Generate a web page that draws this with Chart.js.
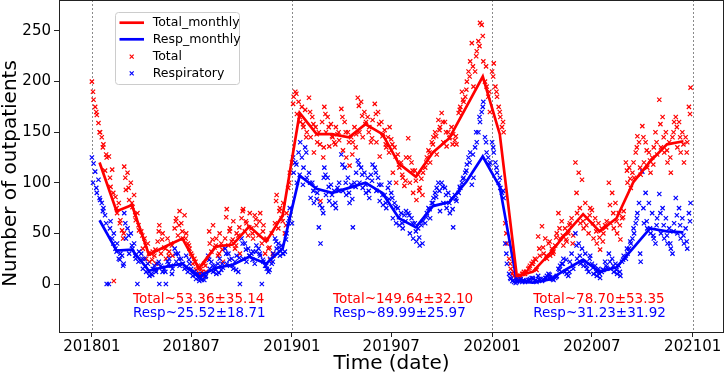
<!DOCTYPE html>
<html><head><meta charset="utf-8">
<script src="https://cdn.jsdelivr.net/npm/chart.js@4"></script>
<style>html,body{margin:0;padding:0;background:#fff}</style>
</head><body>
<canvas id="c" width="726" height="376"></canvas>
<script>
// ---------------- data ----------------
const xTickLabels = ['201801','201807','201901','201907','202001','202007','202101'];
const yTicks = [0, 50, 100, 150, 200, 250];

// monthly means, Jan 2018 .. Dec 2020
const totalMonthly = [120,72,78,29,37,45,15.5,37,39,57,42,68, 169,148,148,145,158,148,119,106,130,144,175,205, 148,8,12,30,50,69,52,65,101,121,138,141];
const respMonthly  = [63,33,34,13,17,20,7,16,19,27,20,35, 107,94,90,95,100,90,65,56,77,81,101,126, 96,3,1.3,4.6,14.5,24,12,16.5,36,55,52,51];

// daily samples A: days 1,4,7,...,28 of each month (10 per month)
const total2018 = [
200,182,175,167,159,150,145,138,112,125,
126,96,113,3,86,70,80,63,53,50,
116,93,110,83,100,76,88,63,70,53,
52,35,45,25,40,22,30,32,28,20,
42,58,30,50,36,25,45,32,40,28,
55,65,48,72,60,45,68,50,40,35,
30,20,25,14,18,10,15,8,20,12,
25,40,32,58,36,45,28,50,40,22,
45,74,38,55,42,62,35,50,48,30,
65,74,52,60,48,70,55,45,68,58,
48,70,40,58,30,45,35,24,50,28,
60,88,55,75,65,80,50,70,95,110];
const resp2018 = [
125,119,111,90,103,83,80,75,68,0,
0,62,45,50,35,40,25,30,28,20,
70,45,55,30,50,35,40,25,0,32,
30,15,25,12,20,8,10,15,18,12,
20,0,18,12,15,0,22,25,18,15,
35,22,30,18,25,20,15,28,12,20,
15,8,12,5,10,3,6,10,4,8,
28,15,22,12,18,10,20,25,14,16,
35,20,30,18,25,15,22,28,12,0,
45,25,40,22,35,28,30,32,20,38,
35,28,0,22,18,15,12,25,20,30,
45,35,40,28,38,30,32,50,60,75];
const total2019 = [
120,185,190,168,180,160,175,155,172,150,
184,145,165,130,155,140,150,82,160,135,
175,150,165,136,158,145,140,155,148,142,
173,132,160,125,150,117,145,140,155,148,
184,150,180,145,170,160,165,155,140,162,
178,140,170,126,160,148,152,135,145,155,
143,110,135,100,128,115,120,105,97,125,
144,100,120,90,112,83,108,95,104,110,
115,125,132,120,140,145,150,128,162,155,
169,140,160,136,150,145,155,148,142,138,
169,175,190,180,185,200,210,220,238,195,
210,230,240,258,256,220,200,195,185,170];
const resp2019 = [
60,110,120,100,130,140,125,115,135,105,
110,85,100,80,95,90,56,40,75,105,
115,88,105,82,98,78,92,75,95,100,
128,92,115,88,105,80,98,56,100,110,
122,100,115,95,110,90,105,85,108,118,
115,92,105,82,98,78,88,75,95,100,
90,65,80,60,75,58,70,55,68,72,
70,50,65,45,60,42,55,38,58,62,
60,70,75,65,80,85,90,95,100,72,
100,80,95,75,90,70,85,56,88,82,
90,95,100,105,110,118,125,130,98,105,
135,140,150,160,170,180,145,130,125,120];
const total2020 = [
210,218,195,185,175,165,155,150,60,40,
25,15,10,8,6,5,4,8,10,12,
10,12,15,18,20,22,25,14,47,28,
57,30,45,25,40,28,35,32,38,50,
70,45,62,38,55,42,50,60,65,48,
120,70,110,60,103,55,80,65,50,75,
73,45,65,40,60,34,55,50,58,62,
100,60,90,55,80,50,70,44,65,72,
120,100,115,95,110,105,130,146,140,108,
156,120,140,115,130,110,125,135,150,128,
182,135,165,130,150,120,140,110,145,160,
165,135,160,130,150,120,145,140,175,194];
const resp2020 = [
140,130,120,110,100,95,90,85,40,20,
10,5,3,2,1,3,4,5,2,3,
2,3,4,5,6,5,3,2,8,4,
3,5,6,8,10,7,5,4,6,8,
15,18,20,25,12,10,8,22,30,15,
50,25,40,20,35,18,30,15,12,28,
20,10,18,8,15,6,12,14,22,16,
30,15,25,12,20,10,18,8,22,28,
25,30,35,40,45,50,60,70,80,22,
111,60,90,55,80,50,70,45,40,65,
89,50,75,45,65,40,55,35,30,60,
85,50,75,45,65,40,55,35,70,80];

// daily samples B: days 3,9,15,21,27 of each month (5 per month), Jan 2018 .. Dec 2020
const totalExtra = [
190,170,150,135,128, 105,90,75,60,45, 105,95,80,68,58, 48,38,30,24,34, 52,44,35,28,38, 62,58,52,45,38,
28,22,16,12,18, 52,44,38,30,34, 66,52,44,38,56, 72,62,56,50,64, 62,52,44,36,30, 82,72,62,58,100,
178,188,165,158,145, 170,158,148,138,125, 168,155,146,138,150, 165,150,140,128,135, 176,166,158,150,144, 168,158,146,138,130,
138,126,118,108,102, 125,112,102,92,88, 120,130,138,146,152, 160,150,144,138,146, 172,182,192,205,215, 225,235,245,215,190,
205,190,170,160,50, 20,12,8,6,10, 12,16,20,24,35, 36,28,42,30,46, 55,48,44,58,40, 90,75,62,58,68,
60,52,46,42,56, 78,70,62,58,66, 112,104,120,135,115, 145,132,122,118,140, 158,145,132,125,150, 155,145,138,130,168];
const respExtra = [
100,95,85,72,60, 55,40,32,24,18, 60,48,38,28,22, 25,18,12,9,14, 22,16,12,20,10, 30,25,20,16,24,
12,9,6,4,7, 24,18,14,11,20, 30,24,18,14,26, 40,34,28,24,32, 30,24,18,14,22, 42,36,30,44,65,
125,118,108,98,130, 100,92,84,78,70, 108,96,88,80,92, 118,100,90,84,96, 118,108,98,92,102, 110,98,88,80,84,
85,76,66,60,62, 68,60,52,46,40, 66,74,80,86,92, 96,88,80,74,84, 96,104,112,120,128, 150,165,175,140,118,
135,115,105,92,30, 6,4,2,3,4, 3,4,6,4,5, 4,6,9,5,7, 14,20,24,12,18, 38,28,22,18,25,
16,12,10,14,18, 22,18,14,12,24, 35,42,55,65,30, 75,62,55,48,58, 70,58,48,40,52, 68,58,48,42,62];

const totalStats = ['Total~53.36±35.14', 'Total~149.64±32.10', 'Total~78.70±53.35'];
const respStats  = ['Resp~25.52±18.71', 'Resp~89.99±25.97', 'Resp~31.23±31.92'];
const yTitle = 'Number of outpatients';

// ---------------- helpers ----------------
const FONT = "'DejaVu Sans', sans-serif";
function dayOf(y, m, d) { return (Date.UTC(y, m, d) - Date.UTC(2018, 0, 1)) / 86400000; }
const xTickDays = xTickLabels.map(l => dayOf(+l.slice(0, 4), +l.slice(4) - 1, 1));
const yearLineDays = xTickLabels.filter(l => l.endsWith('01')).map(l => dayOf(+l.slice(0, 4), 0, 1));

function monthlyPoints(vals) {
  return vals.map((v, i) => ({ x: dayOf(2018 + Math.floor(i / 12), i % 12, 15), y: v }));
}
function dailyPoints(years, extra) {
  const out = [];
  years.forEach((arr, yi) => {
    arr.forEach((v, i) => {
      const m = Math.floor(i / 10), k = i % 10;
      out.push({ x: dayOf(2018 + yi, m, 1 + 3 * k), y: v });
    });
  });
  extra.forEach((v, i) => {
    const mi = Math.floor(i / 5), k = i % 5;
    out.push({ x: dayOf(2018 + Math.floor(mi / 12), mi % 12, 3 + 6 * k), y: v });
  });
  return out;
}

const RED = '#ff0000', BLUE = '#0000ff';

const framePlugin = {
  id: 'frame',
  beforeDatasetsDraw(chart) {
    const { ctx, chartArea: a, scales: { x } } = chart;
    ctx.save();
    ctx.strokeStyle = '#8a8a8a';
    ctx.lineWidth = 1;
    ctx.setLineDash([2, 2]);
    yearLineDays.forEach(d => {
      const px = Math.round(x.getPixelForValue(d)) + 0.5;
      ctx.beginPath(); ctx.moveTo(px, a.top); ctx.lineTo(px, a.bottom); ctx.stroke();
    });
    ctx.restore();
  },
  afterDatasetsDraw(chart) {
    const { ctx, scales: { x, y } } = chart;
    ctx.save();
    ctx.font = '13.5px ' + FONT;
    ctx.textAlign = 'left';
    ctx.textBaseline = 'middle';
    yearLineDays.slice(0, 3).forEach((d, i) => {
      const px = x.getPixelForValue(d + 75);
      ctx.fillStyle = RED;
      ctx.fillText(totalStats[i], px, y.getPixelForValue(-15.3));
      ctx.fillStyle = BLUE;
      ctx.fillText(respStats[i], px, y.getPixelForValue(-29.6));
    });
    // legend
    const lx = 115.5, ly = 12.5, lw = 124, lh = 72;
    ctx.fillStyle = 'rgba(255,255,255,0.85)';
    ctx.strokeStyle = '#cccccc';
    ctx.lineWidth = 1;
    ctx.beginPath();
    if (ctx.roundRect) ctx.roundRect(lx, ly, lw, lh, 3); else ctx.rect(lx, ly, lw, lh);
    ctx.fill(); ctx.stroke();
    const rows = [22.7, 39.3, 56.7, 73.3];
    const ds = chart.data.datasets;
    const entries = [ds[0], ds[1], ds[3], ds[2]];
    ctx.font = '12.5px ' + FONT;
    ctx.textBaseline = 'middle';
    entries.forEach((e, i) => {
      const ry = rows[i];
      ctx.strokeStyle = e.borderColor;
      if (e.type === 'line') {
        ctx.lineWidth = 2.7;
        ctx.beginPath(); ctx.moveTo(119.5, ry); ctx.lineTo(144, ry); ctx.stroke();
      } else {
        ctx.lineWidth = 1.2;
        const cx = 131.7, r = 2;
        ctx.beginPath();
        ctx.moveTo(cx - r, ry - r); ctx.lineTo(cx + r, ry + r);
        ctx.moveTo(cx - r, ry + r); ctx.lineTo(cx + r, ry - r);
        ctx.stroke();
      }
      ctx.fillStyle = '#000';
      ctx.fillText(e.label, 152.7, ry);
    });
    ctx.restore();
  },
  afterDraw(chart) {
    const { ctx, chartArea: a } = chart;
    ctx.save();
    ctx.strokeStyle = '#222';
    ctx.lineWidth = 1;
    ctx.strokeRect(Math.round(a.left) + 0.5, Math.round(a.top) + 0.5,
      Math.round(a.right - a.left) - 1, Math.round(a.bottom - a.top) - 1);
    // y axis title
    ctx.translate(11, (a.top + a.bottom) / 2 + 7);
    ctx.rotate(-Math.PI / 2);
    ctx.fillStyle = '#000';
    ctx.font = '20px ' + FONT;
    ctx.textAlign = 'center';
    ctx.textBaseline = 'middle';
    ctx.fillText(yTitle, 0, 0);
    ctx.restore();
  }
};

new Chart(document.getElementById('c'), {
  type: 'scatter',
  data: {
    datasets: [
      { type: 'line', label: 'Total_monthly', data: monthlyPoints(totalMonthly), borderColor: RED,
        borderWidth: 2.7, pointRadius: 0, fill: false, tension: 0, order: 0 },
      { type: 'line', label: 'Resp_monthly', data: monthlyPoints(respMonthly), borderColor: BLUE,
        borderWidth: 2.7, pointRadius: 0, fill: false, tension: 0, order: 1 },
      { type: 'scatter', label: 'Respiratory', data: dailyPoints([resp2018, resp2019, resp2020], respExtra),
        pointStyle: 'crossRot', pointRadius: 3, borderColor: BLUE, backgroundColor: BLUE, borderWidth: 1.2, order: 2 },
      { type: 'scatter', label: 'Total', data: dailyPoints([total2018, total2019, total2020], totalExtra),
        pointStyle: 'crossRot', pointRadius: 3, borderColor: RED, backgroundColor: RED, borderWidth: 1.2, order: 3 }
    ]
  },
  options: {
    responsive: false,
    animation: false,
    devicePixelRatio: 1,
    events: [],
    layout: { autoPadding: false, padding: { top: 0, right: 2, left: 0, bottom: 0 } },
    plugins: { legend: { display: false }, tooltip: { enabled: false } },
    scales: {
      x: {
        type: 'linear', min: -60, max: 1153,
        afterBuildTicks: s => { s.ticks = xTickDays.map(v => ({ value: v })); },
        afterFit: s => { s.height = 43; s.paddingLeft = 0; s.paddingRight = 0; },
        ticks: {
          autoSkip: false, maxRotation: 0, padding: 1, color: '#000',
          font: { family: FONT, size: 15 },
          callback: v => { const i = xTickDays.indexOf(v); return i >= 0 ? xTickLabels[i] : ''; }
        },
        grid: { drawOnChartArea: false, drawTicks: true, tickLength: 4, tickColor: '#222', color: '#222' },
        border: { display: false },
        title: { display: true, text: 'Time (date)', color: '#000', font: { family: FONT, size: 20 }, padding: { top: 0, bottom: 0 } }
      },
      y: {
        type: 'linear', min: -48.4, max: 280.6,
        afterBuildTicks: s => { s.ticks = yTicks.map(v => ({ value: v })); },
        afterFit: s => { s.width = 59; s.paddingTop = 0; s.paddingBottom = 0; },
        ticks: { padding: 3, color: '#000', font: { family: FONT, size: 15 } },
        grid: { drawOnChartArea: false, drawTicks: true, tickLength: 5, tickColor: '#222', color: '#222' },
        border: { display: false },
        title: { display: false }
      }
    }
  },
  plugins: [framePlugin]
});
</script>
</body></html>
